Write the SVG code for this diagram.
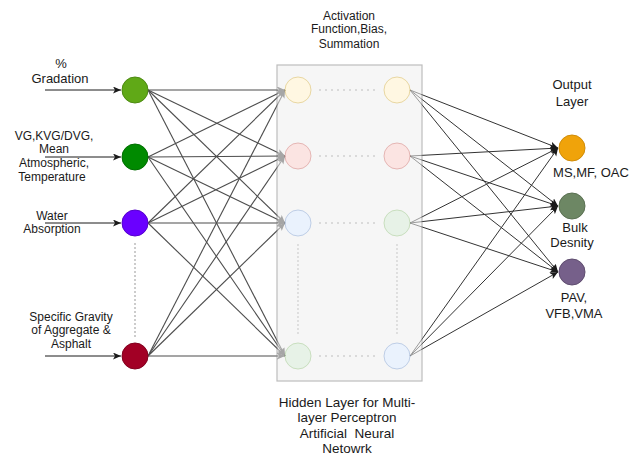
<svg xmlns="http://www.w3.org/2000/svg" width="644" height="455" viewBox="0 0 644 455">
  <style>
    text { font-family: "Liberation Sans", Arial, sans-serif; font-size: 12px; fill: #1a1a1a; text-anchor: middle; }
    .big { font-size: 13.5px; white-space: pre; }
    .out { font-size: 13px; }
    .feed { stroke: #1a1a1a; stroke-width: 1; fill: none; }
    .w-in { stroke: #4d4d4d; stroke-width: 1.1; fill: none; }
    .w-out { stroke: #333333; stroke-width: 1; fill: none; }
    .dots { stroke: #888888; stroke-width: 1.2; stroke-dasharray: 2 4; fill: none; }
    .vdots { stroke: #999999; stroke-width: 1; stroke-dasharray: 2 2; fill: none; }
  </style>
  <defs>
    <marker id="arrowDark" markerWidth="10" markerHeight="8" refX="8" refY="3.5" orient="auto" markerUnits="userSpaceOnUse">
      <path d="M0,0 L8,3.5 L0,7 L2,3.5 z" fill="#1a1a1a"/>
    </marker>
    <marker id="arrowGray" markerWidth="10" markerHeight="8" refX="8" refY="3.5" orient="auto" markerUnits="userSpaceOnUse">
      <path d="M0,0 L8,3.5 L0,7 L2,3.5 z" fill="#4d4d4d"/>
    </marker>
  </defs>

  <rect width="644" height="455" fill="#ffffff"/>

  <!-- Connectors -->
  <g id="connectors">
    <!-- input feeds -->
    <line class="feed" x1="45" y1="90" x2="121" y2="90" marker-end="url(#arrowDark)"/>
    <line class="feed" x1="45" y1="157" x2="121" y2="157" marker-end="url(#arrowDark)"/>
    <line class="feed" x1="45" y1="223" x2="121" y2="223" marker-end="url(#arrowDark)"/>
    <line class="feed" x1="45" y1="356" x2="121" y2="356" marker-end="url(#arrowDark)"/>

    <!-- input layer to first hidden column -->
    <g class="w-in" marker-end="url(#arrowGray)">
      <line x1="148" y1="90" x2="285" y2="90"/>
      <line x1="148" y1="90" x2="285" y2="156"/>
      <line x1="148" y1="90" x2="285" y2="223"/>
      <line x1="148" y1="90" x2="285" y2="356"/>
      <line x1="148" y1="157" x2="285" y2="90"/>
      <line x1="148" y1="157" x2="285" y2="156"/>
      <line x1="148" y1="157" x2="285" y2="223"/>
      <line x1="148" y1="157" x2="285" y2="356"/>
      <line x1="148" y1="223" x2="285" y2="90"/>
      <line x1="148" y1="223" x2="285" y2="156"/>
      <line x1="148" y1="223" x2="285" y2="223"/>
      <line x1="148" y1="223" x2="285" y2="356"/>
      <line x1="148" y1="356" x2="285" y2="90"/>
      <line x1="148" y1="356" x2="285" y2="156"/>
      <line x1="148" y1="356" x2="285" y2="223"/>
      <line x1="148" y1="356" x2="285" y2="356"/>
    </g>

    <!-- last hidden column to output layer -->
    <g class="w-out" marker-end="url(#arrowDark)">
      <line x1="410" y1="90" x2="558" y2="148"/>
      <line x1="410" y1="90" x2="558" y2="206"/>
      <line x1="410" y1="90" x2="558" y2="272"/>
      <line x1="410" y1="156" x2="558" y2="148"/>
      <line x1="410" y1="156" x2="558" y2="206"/>
      <line x1="410" y1="156" x2="558" y2="272"/>
      <line x1="410" y1="223" x2="558" y2="148"/>
      <line x1="410" y1="223" x2="558" y2="206"/>
      <line x1="410" y1="223" x2="558" y2="272"/>
      <line x1="410" y1="356" x2="558" y2="148"/>
      <line x1="410" y1="356" x2="558" y2="206"/>
      <line x1="410" y1="356" x2="558" y2="272"/>
    </g>

    <!-- ellipsis between input nodes -->
    <line class="vdots" x1="135" y1="243" x2="135" y2="337"/>
  </g>

  <!-- Hidden layer container (semi-transparent, over the weights) -->
  <g id="hidden-layer" opacity="0.55">
    <rect x="277" y="65" width="145" height="316" fill="#f0f0f0" stroke="#888888" stroke-width="1.2"/>
    <g id="h1a"><circle cx="298" cy="90" r="13" fill="#fff2cc" stroke="#d6b656"/></g>
    <g id="h1b"><circle cx="397" cy="90" r="13" fill="#fff2cc" stroke="#d6b656"/></g>
    <g id="h2a"><circle cx="298" cy="156" r="13" fill="#f8cecc" stroke="#d07a76"/></g>
    <g id="h2b"><circle cx="397" cy="156" r="13" fill="#f8cecc" stroke="#d07a76"/></g>
    <g id="h3a"><circle cx="298" cy="223" r="13" fill="#dae8fc" stroke="#8aa6d2"/></g>
    <g id="h3b"><circle cx="397" cy="223" r="13" fill="#d5e8d4" stroke="#9cc48a"/></g>
    <g id="h4a"><circle cx="298" cy="356" r="13" fill="#d5e8d4" stroke="#9cc48a"/></g>
    <g id="h4b"><circle cx="397" cy="356" r="13" fill="#dae8fc" stroke="#8aa6d2"/></g>
    <line class="dots" x1="319" y1="90" x2="377" y2="90"/>
    <line class="dots" x1="319" y1="156" x2="377" y2="156"/>
    <line class="dots" x1="319" y1="223" x2="377" y2="223"/>
    <line class="dots" x1="319" y1="356" x2="377" y2="356"/>
    <line class="vdots" x1="298" y1="244" x2="298" y2="335" stroke="#777777"/>
    <line class="vdots" x1="397" y1="244" x2="397" y2="335" stroke="#777777"/>
  </g>

  <!-- Input nodes -->
  <g id="in-gradation"><circle cx="135" cy="90" r="13" fill="#60a917" stroke="#4d8a12"/></g>
  <g id="in-vg"><circle cx="135" cy="157" r="13" fill="#008a00" stroke="#006e00"/></g>
  <g id="in-water"><circle cx="135" cy="223" r="13" fill="#6a00ff" stroke="#5500cc"/></g>
  <g id="in-sg"><circle cx="135" cy="356" r="13" fill="#a20025" stroke="#82001e"/></g>

  <!-- Output nodes -->
  <g id="out-ms"><circle cx="572" cy="148" r="13" fill="#f0a30a" stroke="#d08c08"/></g>
  <g id="out-bulk"><circle cx="572" cy="206" r="13" fill="#6d8764" stroke="#5a7052"/></g>
  <g id="out-pav"><circle cx="572" cy="272" r="13" fill="#76608a" stroke="#5f4d6f"/></g>

  <!-- Labels -->
  <g id="labels">
    <text class="out" x="61" y="68">%</text>
    <text class="out" x="60" y="83">Gradation</text>

    <text x="54" y="140">VG,KVG/DVG,</text>
    <text x="54" y="153">Mean</text>
    <text x="54" y="167">Atmospheric,</text>
    <text x="52" y="181">Temperature</text>

    <text x="52" y="220">Water</text>
    <text x="52" y="233">Absorption</text>

    <text x="71" y="321">Specific Gravity</text>
    <text x="71" y="334">of Aggregate &amp;</text>
    <text x="71" y="348">Asphalt</text>

    <text x="349" y="20">Activation</text>
    <text x="349" y="33">Function,Bias,</text>
    <text x="349" y="48">Summation</text>

    <text class="big" x="347" y="407">Hidden Layer for Multi-</text>
    <text class="big" x="347" y="422">layer Perceptron</text>
    <text class="big" x="347" y="438">Artificial  Neural</text>
    <text class="big" x="347" y="453">Netowrk</text>

    <text class="out" x="572" y="89">Output</text>
    <text class="out" x="572" y="106">Layer</text>

    <text class="out" x="591" y="177">MS,MF, OAC</text>
    <text class="out" x="575" y="232">Bulk</text>
    <text class="out" x="572" y="247">Desnity</text>
    <text class="out" x="574" y="302">PAV,</text>
    <text class="out" x="574" y="318">VFB,VMA</text>
  </g>
</svg>
